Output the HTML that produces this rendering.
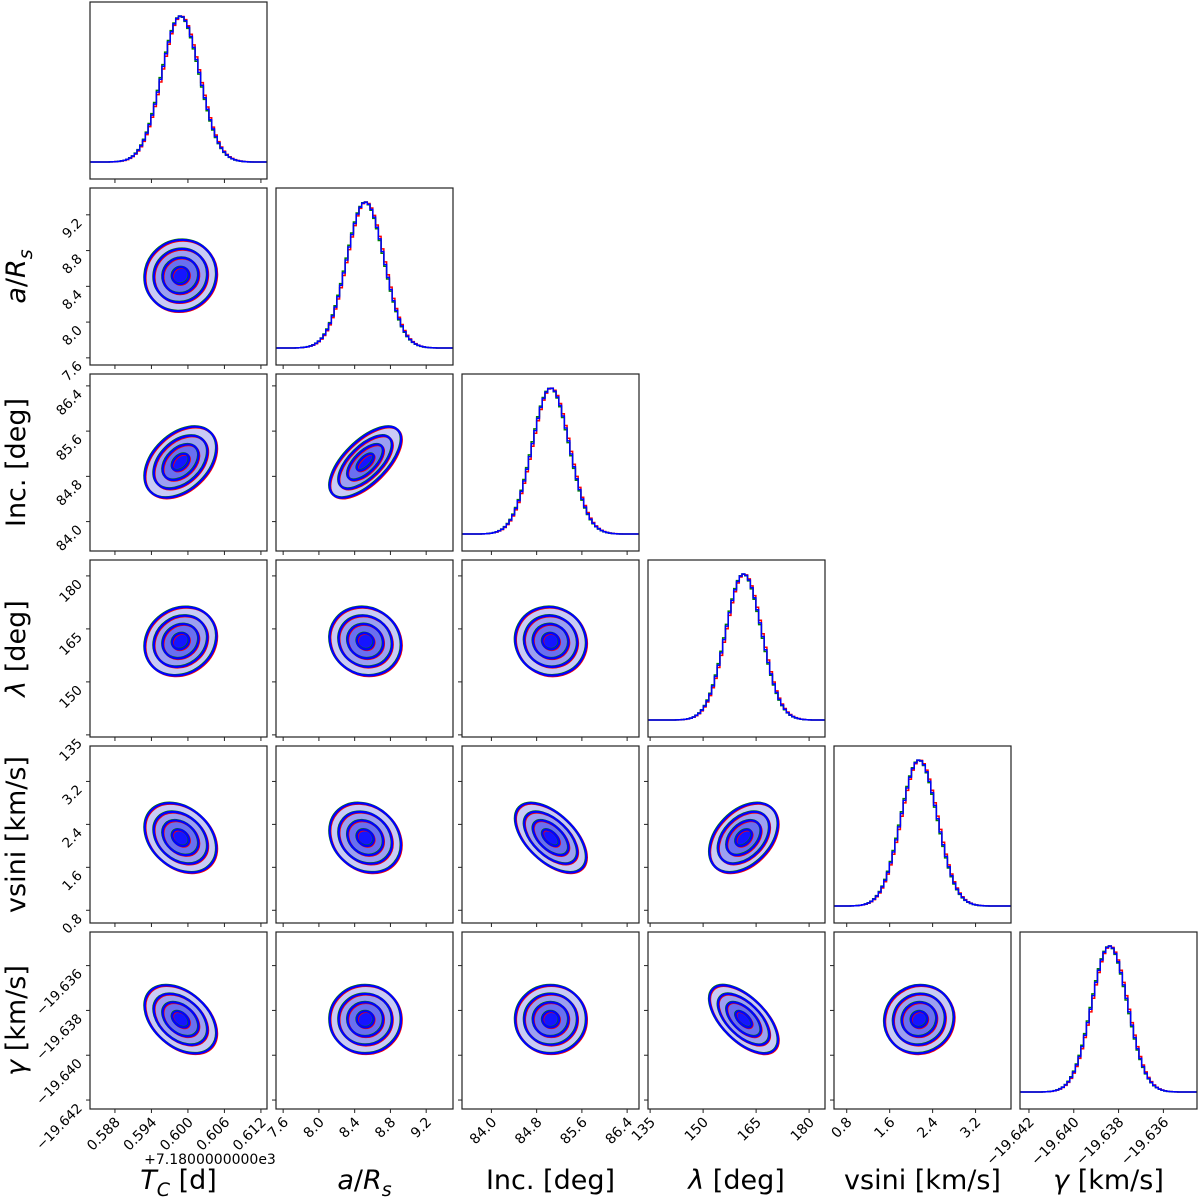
<!DOCTYPE html>
<html><head><meta charset="utf-8"><style>
html,body{margin:0;padding:0;background:#fff;}
svg{display:block;font-family:"DejaVu Sans","Liberation Sans",sans-serif;}
</style></head><body>
<svg id="chart" width="1200" height="1198" viewBox="0 0 1200 1198" xmlns="http://www.w3.org/2000/svg"></svg>
<script>
// ---- data ----
const paramLabels = ["T_C [d]", "a/R_s", "Inc. [deg]", "λ [deg]", "vsini [km/s]", "γ [km/s]"];
const paramMeans = [0.5988, 8.52, 85.05, 161.5, 2.15, -19.6384];
const paramSigmas = [0.0031, 0.21, 0.33, 5.1, 0.34, 0.0008];
// lower-triangle correlations: corrRows[i][j] for j<i
const corrRows = [
  [],
  [0.05],
  [0.4, 0.65],
  [0.15, -0.1, -0.05],
  [-0.3, -0.2, -0.55, 0.4],
  [-0.4, 0.0, 0.0, -0.6, 0.05]
];
const chainShift = [0.03, -0.02, 0.0]; // red, green, blue (in sigma units)
const chainColors = ["#ff0000", "#008000", "#0000ff"];
const axisLo = [0.5839, 7.52, 83.48, 134.4, 0.563, -19.6424];
const axisHi = [0.6130, 9.50, 86.61, 184.5, 3.86, -19.6345];
const tickVals = [
  [0.588, 0.594, 0.600, 0.606, 0.612],
  [7.6, 8.0, 8.4, 8.8, 9.2],
  [84.0, 84.8, 85.6, 86.4],
  [135, 150, 165, 180],
  [0.8, 1.6, 2.4, 3.2],
  [-19.642, -19.640, -19.638, -19.636]
];
const tickText = [
  ["0.588", "0.594", "0.600", "0.606", "0.612"],
  ["7.6", "8.0", "8.4", "8.8", "9.2"],
  ["84.0", "84.8", "85.6", "86.4"],
  ["135", "150", "165", "180"],
  ["0.8", "1.6", "2.4", "3.2"],
  ["−19.642", "−19.640", "−19.638", "−19.636"]
];
const sigmaLevels = [1.9, 1.42, 0.95, 0.45];
const levelFills = ["#c9caf6", "#9c9ff2", "#6a6ff0", "#1515ff"];

// ---- layout ----
const NS = "http://www.w3.org/2000/svg";
const svg = document.getElementById("chart");
const P0X = 90, P0Y = 2, STEP = 186, SIZE = 177;
function el(tag, attrs, parent) {
  const e = document.createElementNS(NS, tag);
  for (const k in attrs) e.setAttribute(k, attrs[k]);
  (parent || svg).appendChild(e);
  return e;
}
function xs(c, v) { return P0X + c * STEP + (v - axisLo[c]) / (axisHi[c] - axisLo[c]) * SIZE; }
function ys(r, v) { return P0Y + r * STEP + SIZE - (v - axisLo[r]) / (axisHi[r] - axisLo[r]) * SIZE; }
function pxPerUnit(i) { return SIZE / (axisHi[i] - axisLo[i]); }

const N = paramMeans.length;
for (let r = 0; r < N; r++) {
  for (let c = 0; c <= r; c++) {
    const x0 = P0X + c * STEP, y0 = P0Y + r * STEP;
    const g = el("g", {});
    
    
    const cid = "clip" + r + "_" + c;
    const cp = el("clipPath", { id: cid }, g);
    el("rect", { x: x0, y: y0, width: SIZE, height: SIZE }, cp);
    const inner = el("g", { "clip-path": "url(#" + cid + ")" }, g);
    if (r === c) {
      const nb = 64, M = 1, ymin = -0.116 * M, ymax = 1.096 * M;
      const hy = v => y0 + SIZE - (v - ymin) / (ymax - ymin) * SIZE;
      for (let k = 0; k < 3; k++) {
        const mu = paramMeans[c] + chainShift[k] * paramSigmas[c];
        let d = "";
        for (let b = 0; b < nb; b++) {
          const a0 = axisLo[c] + (axisHi[c] - axisLo[c]) * b / nb;
          const a1 = axisLo[c] + (axisHi[c] - axisLo[c]) * (b + 1) / nb;
          const z = ((a0 + a1) / 2 - mu) / paramSigmas[c];
          const h = Math.exp(-0.5 * z * z);
          const yy = hy(h);
          d += (b === 0 ? "M" : "L") + xs(c, a0).toFixed(2) + "," + yy.toFixed(2) + "L" + xs(c, a1).toFixed(2) + "," + yy.toFixed(2);
        }
        const p = el("path", { d: d, fill: "none", stroke: chainColors[k], "stroke-width": 1.5 }, inner);
        
        
      }
    } else {
      const rho = corrRows[r][c];
      const sx = paramSigmas[c] * pxPerUnit(c), sy = paramSigmas[r] * pxPerUnit(r);
      const a = sx * sx, cc = sy * sy, b = -rho * sx * sy;
      const ang = 0.5 * Math.atan2(2 * b, a - cc) * 180 / Math.PI;
      const m = (a + cc) / 2, q = Math.sqrt(((a - cc) / 2) ** 2 + b * b);
      const l1 = Math.sqrt(m + q), l2 = Math.sqrt(Math.max(m - q, 1e-6));
      const ell = (k, s, attrs) => {
        const cx = xs(c, paramMeans[c] + chainShift[k] * paramSigmas[c]);
        const cy = ys(r, paramMeans[r] - chainShift[k] * paramSigmas[r]);
        return el("ellipse", Object.assign({ cx: cx, cy: cy, rx: s * l1, ry: s * l2,
          transform: "rotate(" + ang + " " + cx + " " + cy + ")" }, attrs), inner);
      };
      sigmaLevels.forEach((s, i) => {
        const e = ell(2, s, { fill: levelFills[i], stroke: "none" });
        
        
      });
      for (let k = 0; k < 3; k++) {
        sigmaLevels.forEach((s, i) => {
          const e = ell(k, s, { fill: "none", stroke: chainColors[k], "stroke-width": k === 2 ? 2.2 : 2.4 });
          
          
        });
      }
    }
    el("rect", { x: x0, y: y0, width: SIZE, height: SIZE, fill: "none", stroke: "#222", "stroke-width": 1.2 }, g);
    tickVals[c].forEach((v, i) => {
      const tx = xs(c, v);
      el("line", { x1: tx, y1: y0 + SIZE, x2: tx, y2: y0 + SIZE + 4, stroke: "#222", "stroke-width": 1 }, g);
      if (r === N - 1) {
        const ax = tx + 6, ay = y0 + SIZE + 14;
        const t = el("text", { x: ax, y: ay, "font-size": 14, "text-anchor": "end",
          transform: "rotate(-45 " + ax + " " + ay + ")" }, g);
        t.textContent = tickText[c][i];
        
        
      }
    });
    if (r !== c) {
      tickVals[r].forEach((v, i) => {
        const ty = ys(r, v);
        el("line", { x1: x0, y1: ty, x2: x0 - 4, y2: ty, stroke: "#222", "stroke-width": 1 }, g);
        if (c === 0) {
          const ax = x0 - 7, ay = ty + 9;
          const t = el("text", { x: ax, y: ay, "font-size": 13.5, "text-anchor": "end",
            transform: "rotate(-45 " + ax + " " + ay + ")" }, g);
          t.textContent = tickText[r][i];
          
          
        }
      });
    }
  }
}
const off = el("text", { x: 210, y: 1164, "font-size": 14, "text-anchor": "middle" });
off.textContent = "+7.1800000000e3";



function richLabel(i, t) {
  const L = paramLabels[i];
  if (i === 0) { t.innerHTML = '<tspan font-style="italic">T</tspan><tspan font-style="italic" font-size="19" dy="7">C</tspan><tspan dy="-7"> [d]</tspan>'; }
  else if (i === 1) { t.innerHTML = '<tspan font-style="italic">a</tspan>/<tspan font-style="italic">R</tspan><tspan font-style="italic" font-size="19" dy="7">s</tspan>'; }
  else if (i === 3) { t.innerHTML = '<tspan font-style="italic">λ</tspan> [deg]'; }
  else if (i === 5) { t.innerHTML = '<tspan font-style="italic">γ</tspan> [km/s]'; }
  else t.textContent = L;
}
for (let i = 0; i < N; i++) {
  const cx = P0X + i * STEP + SIZE / 2;
  const t = el("text", { x: cx, y: 1189, "font-size": 27, "text-anchor": "middle" });
  richLabel(i, t);
  
  
  if (i > 0) {
    const cy = P0Y + i * STEP + SIZE / 2;
    const ty = el("text", { x: 0, y: 0, "font-size": 27, "text-anchor": "middle",
      transform: "translate(25 " + cy + ") rotate(-90)" });
    richLabel(i, ty);
    
    
  }
}
</script>
</body></html>
